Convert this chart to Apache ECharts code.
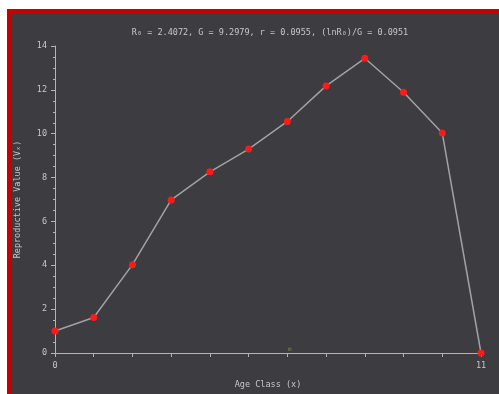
<!DOCTYPE html>
<html>
<head>
<meta charset="utf-8">
<script src="https://cdn.jsdelivr.net/npm/echarts@6/dist/echarts.min.js"></script>
<style>
  html, body { margin: 0; padding: 0; background: #fff; }
  #chart { width: 499px; height: 394px; }
</style>
</head>
<body>
<div id="chart"></div>
<script>
var ageClass = [0, 1, 2, 3, 4, 5, 6, 7, 8, 9, 10, 11];
var reproValue = [1.0, 1.62, 4.03, 6.98, 8.26, 9.3, 10.56, 12.18, 13.44, 11.89, 10.03, 0];
var yTicks = [0, 2, 4, 6, 8, 10, 12, 14];
var xLabels = [0, 11];
var titleText = 'R\u2080 = 2.4072, G = 9.2979, r = 0.0955, (lnR\u2080)/G = 0.0951';

var myChart = echarts.init(document.getElementById('chart'));

var axisColor = '#b4b4b4';
var textColor = '#c8c8c8';
var font = 'DejaVu Sans Mono';

var option = {
    backgroundColor: '#ffffff',
    animation: false,
    graphic: [
        { type: 'rect', z: -10, shape: { x: 7, y: 9, width: 492, height: 385 }, style: { fill: '#c40000' } },
        { type: 'rect', z: -9, shape: { x: 11.5, y: 13.5, width: 488, height: 381 }, style: { fill: '#3c3c41' } },
        { type: 'text', left: 288, top: 346, style: { text: 'm', fill: '#8a8a3a', font: '6px ' + font } }
    ],
    title: {
        text: titleText,
        left: 265,
        textAlign: 'center',
        top: 23,
        textStyle: { color: textColor, fontSize: 8.5, fontWeight: 'normal', fontFamily: font }
    },
    grid: { left: 55, right: 18, top: 46, bottom: 37 },
    xAxis: {
        type: 'value',
        min: 0,
        max: 11,
        interval: 1,
        name: 'Age Class (x)',
        nameLocation: 'middle',
        nameGap: 27,
        nameTextStyle: { color: textColor, fontSize: 8.5, fontFamily: font },
        axisLine: { lineStyle: { color: axisColor, width: 1 } },
        axisTick: { show: true, length: 4, lineStyle: { color: axisColor } },
        splitLine: { show: false },
        axisLabel: {
            color: textColor, fontSize: 8.5, fontFamily: font, margin: 8,
            formatter: function (v) { return xLabels.indexOf(v) >= 0 ? String(v) : ''; }
        }
    },
    yAxis: {
        type: 'value',
        min: 0,
        max: 14,
        interval: 2,
        name: 'Reproductive Value (V\u2093)',
        nameLocation: 'middle',
        nameGap: 33,
        nameTextStyle: { color: textColor, fontSize: 8.5, fontFamily: font },
        axisLine: { show: true, lineStyle: { color: axisColor, width: 1 } },
        axisTick: { show: true, length: 4, lineStyle: { color: axisColor } },
        minorTick: { show: true, splitNumber: 4, length: 2, lineStyle: { color: axisColor } },
        splitLine: { show: false },
        axisLabel: {
            color: textColor, fontSize: 8.5, fontFamily: font, margin: 8,
            formatter: function (v) { return yTicks.indexOf(v) >= 0 ? String(v) : ''; }
        }
    },
    series: [{
        type: 'line',
        data: ageClass.map(function (x, i) { return [x, reproValue[i]]; }),
        lineStyle: { color: '#a2a2a2', width: 1.5 },
        itemStyle: { color: '#ff1a1a' },
        symbol: 'circle',
        symbolSize: 7,
        clip: false
    }]
};

myChart.setOption(option);
</script>
</body>
</html>
